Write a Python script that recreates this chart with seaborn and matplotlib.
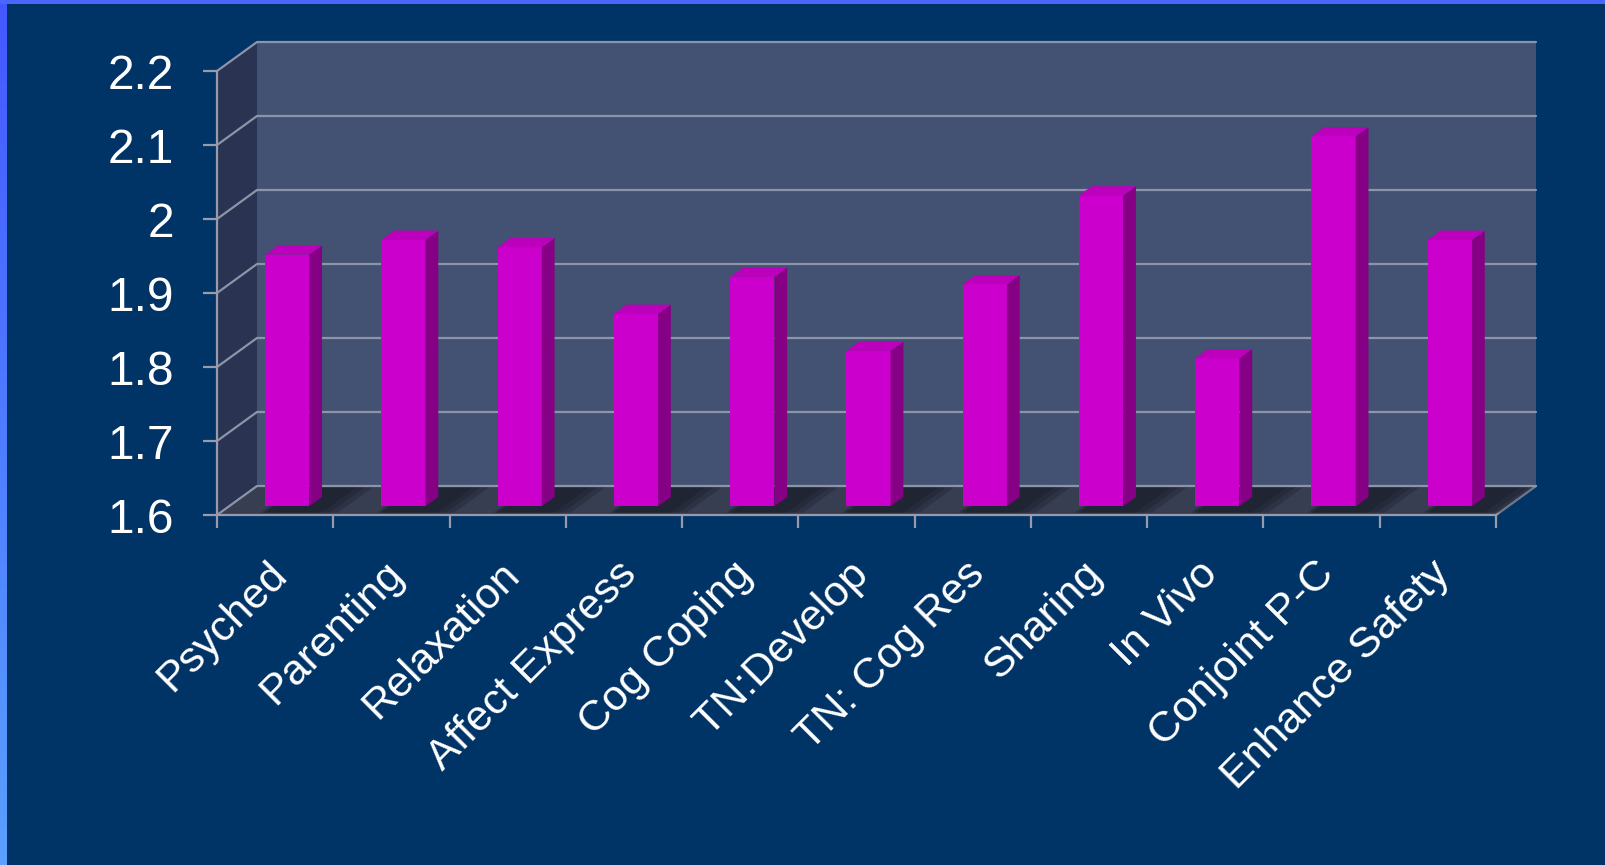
import numpy as np
import pandas as pd
import matplotlib
matplotlib.use('Agg')
import matplotlib.pyplot as plt
import seaborn as sns
from matplotlib.patches import Polygon, Rectangle
from matplotlib.ticker import FuncFormatter
from matplotlib.transforms import ScaledTranslation

# ========== data ==========
categories = ['Psyched', 'Parenting', 'Relaxation', 'Affect Express', 'Cog Coping',
              'TN:Develop', 'TN: Cog Res', 'Sharing', 'In Vivo', 'Conjoint P-C',
              'Enhance Safety']
scores = [1.94, 1.96, 1.95, 1.86, 1.91, 1.81, 1.90, 2.02, 1.80, 2.10, 1.96]
y_ticks = [1.6, 1.7, 1.8, 1.9, 2.0, 2.1, 2.2]

df = pd.DataFrame({'cat': categories, 'score': scores})

# ========== style ==========
sns.set_style('dark')
plt.rcParams['font.family'] = ['Liberation Sans', 'DejaVu Sans']
BG = '#003366'
C_WALL = '#435173'
C_SIDE = '#2a3452'
C_FLOOR = '#373e52'
C_GRID = '#8c94a8'
C_AXIS = '#9a9aaa'
C_FRONT = '#cc00cc'
C_BSIDE = '#860086'
C_TOP = '#bc00bc'

W_PX, H_PX = 1606, 865
fig = plt.figure(figsize=(W_PX / 100, H_PX / 100), dpi=100, facecolor=BG)

# front plane of the 3d box, pixel geometry
x0, x1, ytop, ybot = 217, 1496, 71, 515
ax = fig.add_axes([x0 / W_PX, 1 - ybot / H_PX, (x1 - x0) / W_PX, (ybot - ytop) / H_PX])
ax.set_facecolor('none')

n = len(categories)
ymin, ymax = y_ticks[0], y_ticks[-1]
# depth of the box in data units
DX = 40 / ((x1 - x0) / n)
DY = 29 / ((ybot - ytop) / (ymax - ymin))
xl, xr = -0.5, n - 0.5

# ========== bars (drawn first so the container is easy to grab) ==========
sns.barplot(data=df, x='cat', y='score', color=C_FRONT, saturation=1, width=0.38,
            ax=ax, zorder=3)
bars = list(ax.containers[0])

# side wall, back wall, floor
ax.add_patch(Polygon([(xl, ymin), (xl + DX, ymin + DY), (xl + DX, ymax + DY), (xl, ymax)],
                     closed=True, fc=C_SIDE, ec='none', clip_on=False, zorder=0))
ax.add_patch(Rectangle((xl + DX, ymin + DY), n, ymax - ymin, fc=C_WALL, ec='none',
                       clip_on=False, zorder=0))
ax.add_patch(Polygon([(xl, ymin), (xr, ymin), (xr + DX, ymin + DY), (xl + DX, ymin + DY)],
                     closed=True, fc=C_FLOOR, ec='none', clip_on=False, zorder=0))

# gridlines on side and back wall
for yv in y_ticks:
    ax.plot([xl, xl + DX, xr + DX], [yv, yv + DY, yv + DY], color=C_GRID, lw=1.6,
            clip_on=False, zorder=1)
ax.plot([xr, xr + DX], [ymin, ymin + DY], color=C_GRID, lw=1.6, clip_on=False, zorder=1)

F1 = 0.30   # bar front depth
FD = 0.32   # bar thickness
for p, v in zip(bars, scores):
    p.set_x(p.get_x() + F1 * DX)
    p.set_y(ymin + F1 * DY)
    p.set_height(v - ymin)
    p.set_edgecolor('none')
    p.set_clip_on(False)
    bx, bw = p.get_x(), p.get_width()
    yb, yt = ymin + F1 * DY, v + F1 * DY
    # soft shadow on the floor around the bar foot
    for ext in [0.22, 0.15, 0.08]:
        fa, fb = 0.08, 0.95
        ax.add_patch(Polygon([(bx - 0.3 * ext + fa * DX, ymin + fa * DY),
                              (bx + bw + ext + fa * DX, ymin + fa * DY),
                              (bx + bw + ext + fb * DX, ymin + fb * DY),
                              (bx - 0.3 * ext + fb * DX, ymin + fb * DY)],
                             closed=True, fc='#12161f', ec='none', alpha=0.25,
                             clip_on=False, zorder=1.5))
    ax.add_patch(Polygon([(bx + bw, yb), (bx + bw + FD * DX, yb + FD * DY),
                          (bx + bw + FD * DX, yt + FD * DY), (bx + bw, yt)],
                         closed=True, fc=C_BSIDE, ec='none', clip_on=False, zorder=3))
    ax.add_patch(Polygon([(bx, yt), (bx + bw, yt), (bx + bw + FD * DX, yt + FD * DY),
                          (bx + FD * DX, yt + FD * DY)],
                         closed=True, fc=C_TOP, ec='none', clip_on=False, zorder=3))

# ========== axes ==========
ax.set_xlim(xl, xr)
ax.set_ylim(ymin, ymax)
ax.grid(False)
for s in ['top', 'right']:
    ax.spines[s].set_visible(False)
for s in ['left', 'bottom']:
    ax.spines[s].set_color(C_AXIS)
    ax.spines[s].set_linewidth(1.6)
    ax.spines[s].set_zorder(4)

ax.set_yticks(y_ticks)
ax.yaxis.set_major_formatter(FuncFormatter(lambda v, _: f'{v:g}'))
ax.tick_params(axis='y', direction='out', length=10, width=1.6, color=C_AXIS,
               labelcolor='white', labelsize=34.5, pad=21, left=True)

ax.set_xticks(np.arange(xl, xr + 0.01, 1.0), minor=True)
ax.tick_params(axis='x', which='minor', direction='out', length=9, width=1.6,
               color=C_AXIS, bottom=True)
ax.tick_params(axis='x', which='major', length=0, labelcolor='white', labelsize=31, pad=28)
ax.set_xlabel('')
ax.set_ylabel('')
for lab in ax.get_xticklabels():
    lab.set_rotation(45)
    lab.set_ha('right')
    lab.set_va('top')
    lab.set_rotation_mode('anchor')
    lab.set_transform(lab.get_transform() + ScaledTranslation(-0.08, 0, fig.dpi_scale_trans))

# ========== slide borders ==========
grad = fig.add_axes([0, 0, 7 / W_PX, 1])
grad.imshow(np.linspace(0, 1, 256)[:, None], aspect='auto',
            cmap=matplotlib.colors.LinearSegmentedColormap.from_list('b', ['#4458ff', '#5aa0ff']))
grad.set_axis_off()
fig.add_artist(Rectangle((0, 1 - 4 / H_PX), 1, 4 / H_PX, transform=fig.transFigure,
                         fc='#4a66ff', ec='none'))

plt.savefig('out.png', dpi=100, facecolor=BG)
